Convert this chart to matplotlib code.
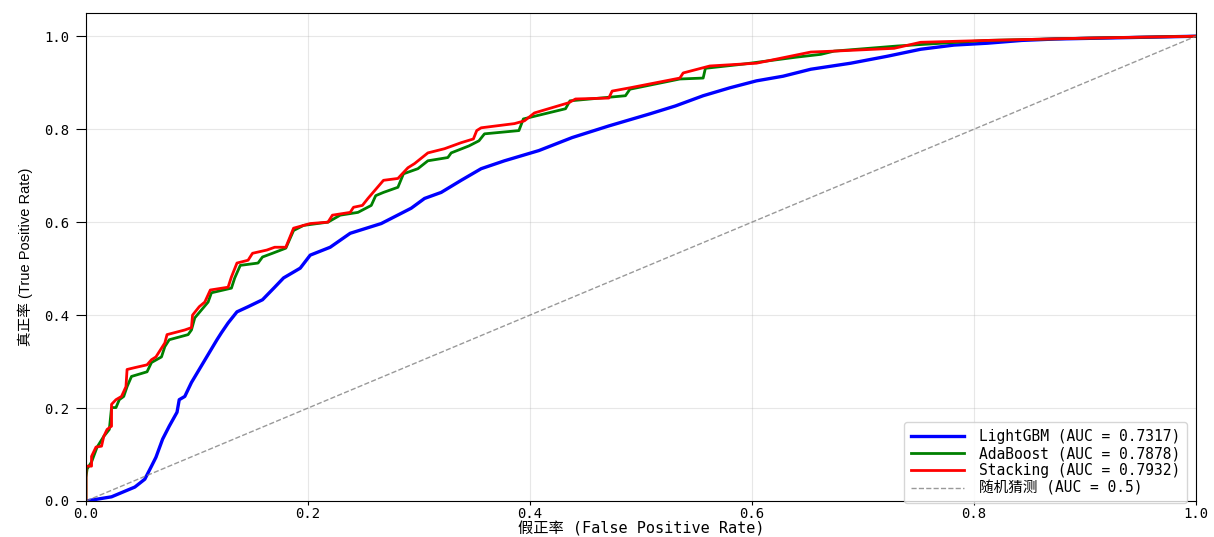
import matplotlib
matplotlib.use('Agg')
import matplotlib.pyplot as plt
import numpy as np

# ---------------------------------------------------------------------------
# Data
# ---------------------------------------------------------------------------
lgb_fpr = [0.0, 0.023, 0.044, 0.053, 0.059, 0.063, 0.069, 0.075, 0.082, 0.084,
           0.089, 0.095, 0.102, 0.110, 0.118, 0.122, 0.128, 0.136, 0.146, 0.159,
           0.170, 0.178, 0.193, 0.202, 0.220, 0.238, 0.266, 0.293, 0.305, 0.320,
           0.338, 0.356, 0.377, 0.408, 0.438, 0.471, 0.508, 0.531, 0.556, 0.580,
           0.604, 0.628, 0.653, 0.689, 0.722, 0.752, 0.782, 0.812, 0.843, 0.873,
           1.0]
lgb_tpr = [0.0, 0.009, 0.030, 0.047, 0.075, 0.094, 0.133, 0.161, 0.191, 0.218,
           0.225, 0.255, 0.283, 0.315, 0.347, 0.362, 0.383, 0.407, 0.418, 0.433,
           0.460, 0.480, 0.501, 0.529, 0.546, 0.576, 0.597, 0.630, 0.651, 0.664,
           0.690, 0.715, 0.732, 0.754, 0.782, 0.807, 0.833, 0.850, 0.872, 0.889,
           0.904, 0.914, 0.929, 0.942, 0.957, 0.972, 0.981, 0.985, 0.991, 0.994,
           1.0]

ada_fpr = [0.0, 0.0, 0.001, 0.005, 0.010, 0.016, 0.021, 0.023, 0.027, 0.030,
           0.034, 0.037, 0.041, 0.055, 0.059, 0.068, 0.071, 0.075, 0.092, 0.095,
           0.098, 0.104, 0.110, 0.113, 0.131, 0.134, 0.139, 0.155, 0.159, 0.168,
           0.180, 0.187, 0.196, 0.218, 0.229, 0.245, 0.257, 0.261, 0.268, 0.281,
           0.286, 0.299, 0.308, 0.326, 0.329, 0.345, 0.354, 0.359, 0.390, 0.394,
           0.432, 0.436, 0.486, 0.490, 0.535, 0.556, 0.558, 0.592, 0.640, 0.662,
           0.674, 0.731, 0.812, 0.903, 1.0]
ada_tpr = [0.0, 0.051, 0.069, 0.084, 0.116, 0.139, 0.154, 0.201, 0.201, 0.218,
           0.225, 0.246, 0.268, 0.278, 0.298, 0.310, 0.332, 0.347, 0.358, 0.368,
           0.394, 0.411, 0.428, 0.448, 0.458, 0.480, 0.507, 0.512, 0.525, 0.533,
           0.544, 0.582, 0.593, 0.600, 0.615, 0.621, 0.636, 0.657, 0.664, 0.675,
           0.704, 0.715, 0.732, 0.739, 0.749, 0.764, 0.775, 0.790, 0.797, 0.822,
           0.844, 0.861, 0.872, 0.886, 0.908, 0.910, 0.931, 0.940, 0.955, 0.961,
           0.968, 0.979, 0.991, 0.996, 1.0]

stk_fpr = [0.0, 0.0, 0.005, 0.005, 0.009, 0.014, 0.016, 0.019, 0.023, 0.023,
           0.027, 0.032, 0.036, 0.037, 0.044, 0.055, 0.059, 0.063, 0.071, 0.073,
           0.089, 0.095, 0.096, 0.102, 0.107, 0.112, 0.128, 0.131, 0.136, 0.146,
           0.150, 0.163, 0.170, 0.180, 0.187, 0.202, 0.218, 0.222, 0.238, 0.241,
           0.249, 0.254, 0.268, 0.281, 0.290, 0.296, 0.308, 0.323, 0.338, 0.349,
           0.352, 0.356, 0.386, 0.395, 0.404, 0.435, 0.441, 0.471, 0.474, 0.490,
           0.535, 0.538, 0.562, 0.604, 0.653, 0.674, 0.728, 0.752, 0.812, 0.903,
           1.0]
stk_tpr = [0.0, 0.075, 0.075, 0.096, 0.116, 0.118, 0.139, 0.154, 0.161, 0.208,
           0.218, 0.225, 0.246, 0.283, 0.287, 0.293, 0.304, 0.310, 0.340, 0.358,
           0.368, 0.373, 0.400, 0.418, 0.428, 0.454, 0.460, 0.482, 0.512, 0.518,
           0.533, 0.540, 0.546, 0.546, 0.587, 0.597, 0.600, 0.615, 0.621, 0.632,
           0.636, 0.651, 0.690, 0.694, 0.717, 0.726, 0.749, 0.758, 0.771, 0.779,
           0.797, 0.803, 0.812, 0.818, 0.835, 0.857, 0.865, 0.867, 0.882, 0.889,
           0.910, 0.921, 0.936, 0.942, 0.966, 0.968, 0.974, 0.987, 0.991, 0.996,
           1.0]

labels = ['LightGBM (AUC = 0.7317)', 'AdaBoost (AUC = 0.7878)',
          'Stacking (AUC = 0.7932)', '随机猜测 (AUC = 0.5)']
colors = ['blue', 'green', 'red']

MONO = ['DejaVu Sans Mono', 'Noto Sans CJK SC']
plt.rcParams['font.family'] = MONO
plt.rcParams['axes.unicode_minus'] = False

# ---------------------------------------------------------------------------
# Plot
# ---------------------------------------------------------------------------
fig = plt.figure(figsize=(12.14, 5.37), dpi=100)
ax = fig.add_axes([86 / 1214, 1 - 501 / 537, 1110 / 1214, 488 / 537])

ax.plot(lgb_fpr, lgb_tpr, color=colors[0], lw=2.4, label=labels[0])
ax.plot(ada_fpr, ada_tpr, color=colors[1], lw=2, label=labels[1])
ax.plot(stk_fpr, stk_tpr, color=colors[2], lw=2, label=labels[2])
ax.plot([0, 1], [0, 1], color='grey', lw=1, ls='--', alpha=0.8, label=labels[3])

ax.set_xlim(0.0, 1.0)
ax.set_ylim(0.0, 1.05)
ax.set_xticks(np.arange(0, 1.01, 0.2))
ax.set_yticks(np.arange(0, 1.01, 0.2))
ax.tick_params(axis='both', labelsize=10)
ax.tick_params(axis='y', length=7, pad=5)
ax.tick_params(axis='x', length=3, pad=1.5)
ax.grid(True, alpha=0.3)

ax.set_xlabel('假正率 (False Positive Rate)', fontsize=11, labelpad=0)
ax.set_ylabel('真正率 (True Positive Rate)', fontsize=10.5,
              family=['Liberation Sans', 'Noto Sans CJK SC'], labelpad=8)

ax.legend(loc='lower right', bbox_to_anchor=(0.992, -0.004), borderaxespad=0,
          fontsize=10.5, labelspacing=0.15, handlelength=3.6,
          handletextpad=1.0, borderpad=0.5, framealpha=0.8)

fig.savefig('out.png', dpi=100)
